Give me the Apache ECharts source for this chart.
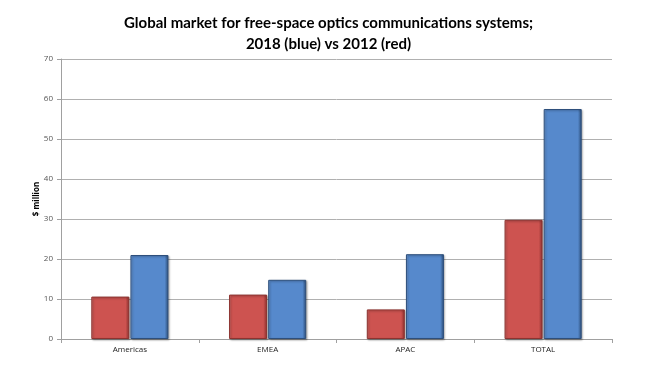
<!DOCTYPE html>
<html>
<head>
<meta charset="utf-8">
<script src="https://cdn.jsdelivr.net/npm/echarts@6/dist/echarts.min.js"></script>
<style>
  html, body { margin: 0; padding: 0; background: #fff; }
  #chart { width: 657px; height: 377px; }
</style>
</head>
<body>
<div id="chart"></div>
<script>
var regions = ['Americas', 'EMEA', 'APAC', 'TOTAL'];
var values2012 = [10.6, 11.1, 7.4, 29.8];
var values2018 = [21.0, 14.8, 21.2, 57.5];

var chart = echarts.init(document.getElementById('chart'));

function bevel(light, mid, dark) {
  return new echarts.graphic.LinearGradient(0, 0, 1, 0, [
    { offset: 0, color: light },
    { offset: 0.06, color: mid },
    { offset: 0.9, color: mid },
    { offset: 1, color: dark }
  ]);
}

chart.setOption({
  animation: false,
  title: {
    text: 'Global market for free-space optics communications systems;\n2018 (blue) vs 2012 (red)',
    left: 'center',
    top: 8,
    textStyle: {
      fontFamily: 'Lato',
      fontWeight: 'bold',
      fontSize: 15,
      lineHeight: 21,
      color: '#000'
    }
  },
  // y axis title, placed by hand closer to the tick labels
  graphic: [{
    type: 'text',
    x: 37,
    y: 199,
    rotation: Math.PI / 2,
    style: {
      text: '$ million',
      fontSize: 8,
      fontWeight: 'bold',
      fontFamily: 'Open Sans',
      fill: '#000',
      textAlign: 'center',
      textVerticalAlign: 'middle'
    }
  }],
  grid: { left: 61, right: 45, top: 59, bottom: 38 },
  xAxis: {
    type: 'category',
    data: regions,
    axisLine: { lineStyle: { color: '#a0a0a0' } },
    axisTick: { show: true, length: 4, lineStyle: { color: '#a0a0a0' } },
    axisLabel: { color: '#222', fontSize: 8, fontFamily: 'Open Sans', margin: 7 }
  },
  yAxis: {
    type: 'value',
    min: 0,
    max: 70,
    interval: 10,
    axisLine: { show: true, lineStyle: { color: '#a0a0a0' } },
    axisTick: { show: true, length: 4, lineStyle: { color: '#a0a0a0' } },
    axisLabel: { color: '#555', fontSize: 8, fontFamily: 'Open Sans', margin: 8 },
    splitLine: { lineStyle: { color: '#b0b0b0' } }
  },
  series: [
    {
      name: '2012',
      type: 'bar',
      data: values2012,
      barWidth: 38,
      barGap: '3%',
      itemStyle: {
        color: bevel('#e07a77', '#cd5350', '#8c302e'),
        borderColor: '#8c3330',
        borderWidth: 1,
        shadowColor: 'rgba(0,0,0,0.3)',
        shadowBlur: 2,
        shadowOffsetX: 1,
        shadowOffsetY: 1
      }
    },
    {
      name: '2018',
      type: 'bar',
      data: values2018,
      barWidth: 38,
      itemStyle: {
        color: bevel('#7ea8e0', '#5689cc', '#2c4d78'),
        borderColor: '#2e4f7c',
        borderWidth: 1,
        shadowColor: 'rgba(0,0,0,0.3)',
        shadowBlur: 2,
        shadowOffsetX: 1,
        shadowOffsetY: 1
      }
    }
  ]
});
</script>
</body>
</html>
